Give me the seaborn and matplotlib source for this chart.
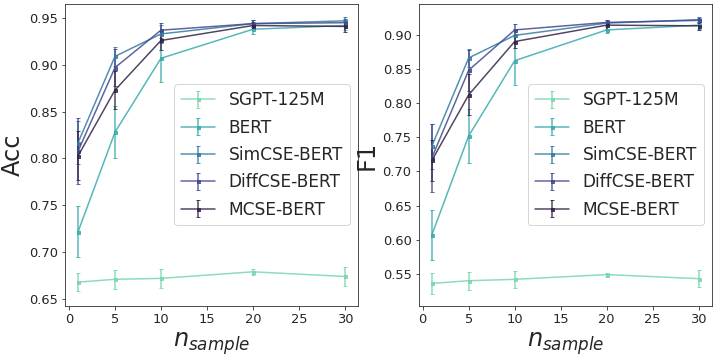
import matplotlib
matplotlib.use("Agg")
import matplotlib.pyplot as plt
import seaborn as sns

# n_sample values
n_sample = [1, 5, 10, 20, 30]
models = ["SGPT-125M", "BERT", "SimCSE-BERT", "DiffCSE-BERT", "MCSE-BERT"]

# Accuracy (mean, std)
acc_sgpt = [0.668, 0.671, 0.672, 0.679, 0.674]
acc_sgpt_err = [0.010, 0.010, 0.010, 0.003, 0.010]
acc_bert = [0.722, 0.828, 0.907, 0.938, 0.942]
acc_bert_err = [0.027, 0.028, 0.025, 0.005, 0.005]
acc_simcse = [0.817, 0.909, 0.933, 0.944, 0.947]
acc_simcse_err = [0.023, 0.010, 0.010, 0.004, 0.004]
acc_diffcse = [0.808, 0.897, 0.937, 0.944, 0.945]
acc_diffcse_err = [0.035, 0.020, 0.008, 0.004, 0.004]
acc_mcse = [0.803, 0.873, 0.926, 0.942, 0.941]
acc_mcse_err = [0.026, 0.020, 0.010, 0.004, 0.006]

# F1 (mean, std)
f1_sgpt = [0.536, 0.540, 0.542, 0.549, 0.543]
f1_sgpt_err = [0.015, 0.013, 0.012, 0.003, 0.012]
f1_bert = [0.607, 0.752, 0.862, 0.907, 0.914]
f1_bert_err = [0.036, 0.040, 0.035, 0.005, 0.005]
f1_simcse = [0.737, 0.866, 0.899, 0.917, 0.922]
f1_simcse_err = [0.033, 0.013, 0.010, 0.004, 0.004]
f1_diffcse = [0.720, 0.848, 0.907, 0.918, 0.921]
f1_diffcse_err = [0.050, 0.030, 0.008, 0.004, 0.004]
f1_mcse = [0.716, 0.812, 0.890, 0.914, 0.913]
f1_mcse_err = [0.030, 0.030, 0.010, 0.005, 0.006]

acc = [(acc_sgpt, acc_sgpt_err), (acc_bert, acc_bert_err), (acc_simcse, acc_simcse_err),
       (acc_diffcse, acc_diffcse_err), (acc_mcse, acc_mcse_err)]
f1 = [(f1_sgpt, f1_sgpt_err), (f1_bert, f1_bert_err), (f1_simcse, f1_simcse_err),
      (f1_diffcse, f1_diffcse_err), (f1_mcse, f1_mcse_err)]

sns.set_style("ticks")
palette = sns.color_palette("mako_r", 5)

fig, axes = plt.subplots(1, 2, figsize=(10, 5), dpi=72)

for ax, series, ylabel in zip(axes, [acc, f1], ["Acc", "F1"]):
    for (vals, errs), name, c in zip(series, models, palette):
        ax.errorbar(n_sample, vals, yerr=errs, label=name, color=c, alpha=0.85,
                    marker="s", markersize=3, capsize=2, linewidth=1.5)
    ax.set_xlabel(r"$n_{sample}$", fontsize=24)
    ax.set_ylabel(ylabel, fontsize=24)
    ax.tick_params(labelsize=13)
    ax.set_xticks([0, 5, 10, 15, 20, 25, 30])
    ax.legend(fontsize=17, loc="center right", handlelength=2, labelspacing=0.55)
    for s in ax.spines.values():
        s.set_visible(True)

axes[0].set_ylim(0.6425, 0.965)
axes[1].set_ylim(0.503, 0.945)

plt.subplots_adjust(left=0.090, right=0.989, top=0.989, bottom=0.15, wspace=0.205)
plt.savefig("out.png")
